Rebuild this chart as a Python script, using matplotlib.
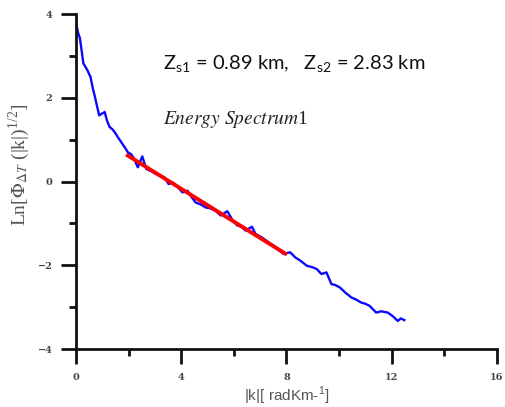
import matplotlib
matplotlib.use("Agg")
import matplotlib.pyplot as plt
from matplotlib.ticker import MultipleLocator

# Spectrum data
k_vals = [0.0, 0.08, 0.15, 0.22, 0.28, 0.35, 0.43, 0.55, 0.63, 0.72, 0.80, 0.88, 0.98, 1.09, 1.18,
          1.28, 1.38, 1.47, 1.60, 1.72, 1.85, 1.97, 2.10, 2.20, 2.35, 2.52, 2.67, 2.85, 3.04,
          3.20, 3.36, 3.52, 3.67, 3.85, 4.05, 4.24, 4.40, 4.55, 4.75, 4.93, 5.10, 5.31, 5.50,
          5.75, 5.95, 6.13, 6.30, 6.44, 6.69, 6.82, 7.05, 7.32, 7.57, 7.89, 8.14, 8.33, 8.55,
          8.77, 9.00, 9.15, 9.33, 9.52, 9.71, 9.85, 10.03, 10.25, 10.47, 10.65, 10.84, 11.00,
          11.16, 11.41, 11.60, 11.85, 12.05, 12.23, 12.35, 12.48]
lnP_vals = [3.79, 3.55, 3.42, 3.10, 2.82, 2.75, 2.66, 2.50, 2.25, 2.02, 1.80, 1.58, 1.62, 1.66, 1.45,
            1.30, 1.25, 1.18, 1.05, 0.94, 0.82, 0.70, 0.65, 0.55, 0.34, 0.60, 0.30, 0.25, 0.18,
            0.14, 0.10, -0.06, -0.02, -0.12, -0.26, -0.22, -0.38, -0.50, -0.55, -0.62, -0.64, -0.70, -0.81,
            -0.71, -0.92, -1.05, -1.08, -1.17, -1.08, -1.25, -1.33, -1.45, -1.56, -1.73, -1.69, -1.81, -1.90,
            -2.01, -2.05, -2.09, -2.21, -2.17, -2.45, -2.47, -2.53, -2.66, -2.77, -2.82, -2.89, -2.92,
            -2.97, -3.13, -3.10, -3.13, -3.22, -3.33, -3.27, -3.31]

# Linear fit segment
fit_k = [1.97, 7.95]
fit_lnP = [0.62, -1.72]

annot_depths = "Z$_{\\mathregular{s1}}$ = 0.89 km,   Z$_{\\mathregular{s2}}$ = 2.83 km"
annot_title = "$\\mathit{Energy\\ Spectrum}$1"

fig = plt.figure(figsize=(5.05, 4.07), dpi=100)
ax = fig.add_axes([0.1505, 0.1425, 0.8335, 0.823])

ax.plot(k_vals, lnP_vals, color="#0a0aff", lw=1.7, zorder=2)
ax.plot(fit_k, fit_lnP, color="#ff0000", lw=2.8, zorder=3)

ax.set_xlim(0, 16)
ax.set_ylim(-4, 4)
ax.xaxis.set_major_locator(MultipleLocator(4))
ax.xaxis.set_minor_locator(MultipleLocator(2))
ax.yaxis.set_major_locator(MultipleLocator(2))
ax.yaxis.set_minor_locator(MultipleLocator(1))

for s in ["top", "right"]:
    ax.spines[s].set_visible(False)
for s in ["left", "bottom"]:
    ax.spines[s].set_linewidth(2)
    ax.spines[s].set_color("#111111")

ax.tick_params(which="major", direction="out", length=11, width=2, color="#111111",
               labelsize=7, labelcolor="#444444", pad=6)
ax.tick_params(which="minor", direction="out", length=5, width=2, color="#111111")
for lab in ax.get_xticklabels() + ax.get_yticklabels():
    lab.set_fontfamily("DejaVu Serif")
    lab.set_fontweight("bold")

ax.set_xlabel("|k|[ radKm-$^{\\mathregular{1}}$]", fontsize=11, color="#555555",
              family="Liberation Sans", labelpad=2)
ax.set_ylabel("Ln[$\\Phi_{\\Delta T}$ (|k|)$^{\\mathregular{1/2}}$]", fontsize=14, color="#555555",
              family="Liberation Serif", math_fontfamily="stix")
ax.yaxis.set_label_coords(-0.105, 0.55)

fig.text(163 / 505, 1 - 70 / 407, annot_depths, fontsize=14.5, family="Lato",
         color="#111111", ha="left", va="baseline")
fig.text(163 / 505, 1 - 124 / 407, annot_title, fontsize=14,
         family="Liberation Serif", color="#222222", ha="left", va="baseline",
         math_fontfamily="stix")

fig.savefig("out.png", dpi=100)
